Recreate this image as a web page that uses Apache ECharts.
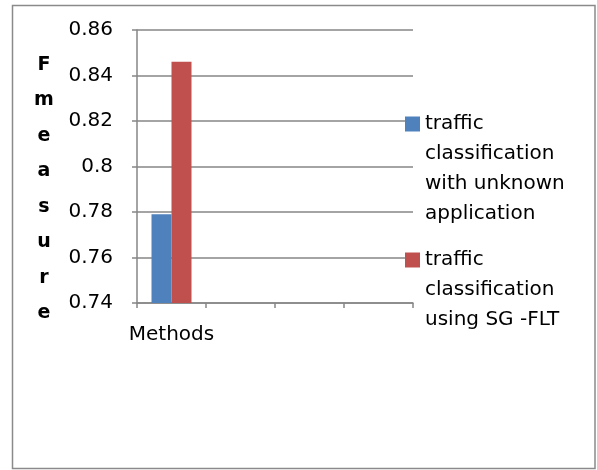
<!DOCTYPE html>
<html>
<head>
<meta charset="utf-8">
<script src="https://cdn.jsdelivr.net/npm/echarts@6/dist/echarts.min.js"></script>
<style>html,body{margin:0;padding:0;background:#fff}#c{width:597px;height:470px}</style>
</head>
<body>
<div id="c"></div>
<script>
const categories = ['Methods', '', '', ''];
const seriesNames = ['traffic\nclassification\nwith unknown\napplication', 'traffic\nclassification\nusing SG -FLT'];
const unknownApp = [0.779, null, null, null];
const sgFlt = [0.846, null, null, null];
const yTicks = { min: 0.74, max: 0.86, interval: 0.02 };
const yTitle = 'F\nm\ne\na\ns\nu\nr\ne';

const FONT = 'DejaVu Sans';
const gridColor = '#868686';
// push first legend line level with its marker: prepend (lines-1) blank lines
function legendFmt(name) {
  const n = name.split('\n').length;
  return '\n'.repeat(n - 1) + name;
}
const chart = echarts.init(document.getElementById('c'), null, { renderer: 'canvas' });
chart.setOption({
  animation: false,
  backgroundColor: '#fff',
  textStyle: { fontFamily: FONT },
  title: {
    text: yTitle, left: 39, top: 42,
    textAlign: 'center',
    textStyle: { fontFamily: FONT, fontSize: 19, fontWeight: 'bold', color: '#000', lineHeight: 35.5 }
  },
  graphic: [{
    type: 'rect', shape: { x: 12.5, y: 5.5, width: 582.5, height: 463 },
    style: { fill: 'none', stroke: '#8a8a8a', lineWidth: 1.5 }, silent: true, z: -1
  }],
  legend: [
    {
      data: [seriesNames[0]], orient: 'vertical', left: 405, top: 19, padding: 0,
      itemWidth: 15, itemHeight: 15, icon: 'rect', formatter: legendFmt,
      textStyle: { fontFamily: FONT, fontSize: 20, color: '#000', lineHeight: 30 }
    },
    {
      data: [seriesNames[1]], orient: 'vertical', left: 405, top: 185, padding: 0,
      itemWidth: 15, itemHeight: 15, icon: 'rect', formatter: legendFmt,
      textStyle: { fontFamily: FONT, fontSize: 20, color: '#000', lineHeight: 30 }
    }
  ],
  grid: { left: 137, right: 184, top: 30, bottom: 167, containLabel: false },
  xAxis: {
    type: 'category', data: categories, boundaryGap: true,
    axisLine: { lineStyle: { color: gridColor, width: 1.5 } },
    axisTick: { show: true, length: 5, alignWithLabel: false, lineStyle: { color: gridColor, width: 1.5 } },
    axisLabel: { fontFamily: FONT, fontSize: 20, color: '#000', margin: 22, interval: 0 },
    splitLine: { show: false }
  },
  yAxis: {
    type: 'value', min: yTicks.min, max: yTicks.max, interval: yTicks.interval,
    axisLine: { show: true, lineStyle: { color: gridColor, width: 1.5 } },
    axisTick: { show: true, length: 5, lineStyle: { color: gridColor, width: 1.5 } },
    axisLabel: { fontFamily: FONT, fontSize: 20, color: '#000', margin: 24 },
    splitLine: { show: true, lineStyle: { color: gridColor, width: 1.5 } }
  },
  series: [
    { name: seriesNames[0], type: 'bar', data: unknownApp, barWidth: 20, barGap: '0%', itemStyle: { color: '#4F81BD' } },
    { name: seriesNames[1], type: 'bar', data: sgFlt, barWidth: 20, barGap: '0%', itemStyle: { color: '#C0504D' } }
  ]
});
</script>
</body>
</html>
